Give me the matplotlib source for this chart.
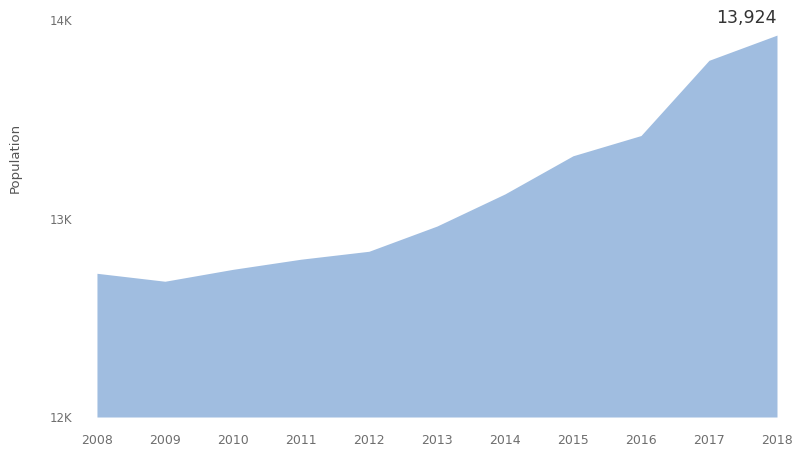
import matplotlib
matplotlib.use("Agg")
import matplotlib.pyplot as plt
from matplotlib.ticker import FuncFormatter

# population by year
years = [2008, 2009, 2010, 2011, 2012, 2013, 2014, 2015, 2016, 2017, 2018]
population = [12724, 12684, 12744, 12795, 12835, 12962, 13124, 13316, 13418, 13797, 13924]
y_ticks = [12000, 13000, 14000]

fill_color = "#a0bde0"
tick_color = "#6e6e6e"

fig = plt.figure(figsize=(8.04, 4.58), dpi=100)
ax = fig.add_axes([0.1206, 0.0895, 0.8458, 0.8668])

ax.fill_between(years, population, 12000, color=fill_color, linewidth=0)

ax.set_xlim(years[0], years[-1])
ax.set_ylim(12000, 14000)
ax.set_xticks(years)
ax.set_yticks(y_ticks)
ax.yaxis.set_major_formatter(FuncFormatter(lambda v, _: f"{int(v / 1000)}K"))

ax.tick_params(axis="x", length=0, pad=12, labelsize=9, colors=tick_color)
ax.tick_params(axis="y", length=0, pad=18, labelsize=8.5, colors=tick_color)
for s in ax.spines.values():
    s.set_visible(False)

# label the last value
ax.annotate(f"{population[-1]:,}", xy=(years[-1], population[-1]),
            xytext=(0, 8), textcoords="offset pixels",
            ha="right", va="bottom", fontsize=12.5, color="#333333")

fig.text(15 / 804, 1 - 158 / 458, "Population", rotation=90,
         ha="center", va="center", fontsize=9.5, color="#555555")

fig.savefig("out.png", dpi=100)
